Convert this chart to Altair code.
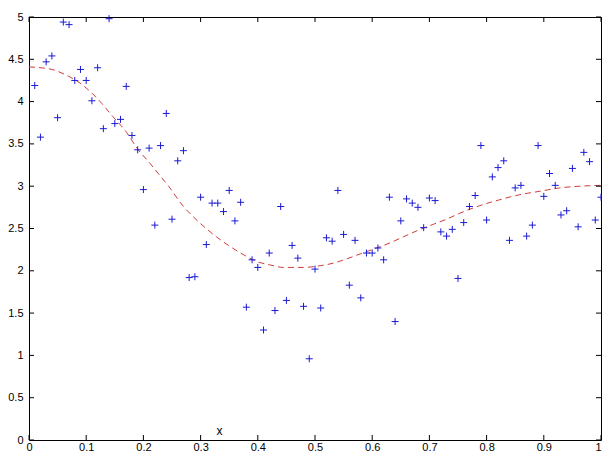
import altair as alt
import pandas as pd

# Scatter data (blue "+")
x_pts = [0.01, 0.02, 0.03, 0.04, 0.05, 0.06, 0.07, 0.08, 0.09, 0.10,
         0.11, 0.12, 0.13, 0.14, 0.15, 0.16, 0.17, 0.18, 0.19, 0.20,
         0.21, 0.22, 0.23, 0.24, 0.25, 0.26, 0.27, 0.28, 0.29, 0.30,
         0.31, 0.32, 0.33, 0.34, 0.35, 0.36, 0.37, 0.38, 0.39, 0.40,
         0.41, 0.42, 0.43, 0.44, 0.45, 0.46, 0.47, 0.48, 0.49, 0.50,
         0.51, 0.52, 0.53, 0.54, 0.55, 0.56, 0.57, 0.58, 0.59, 0.60,
         0.61, 0.62, 0.63, 0.64, 0.65, 0.66, 0.67, 0.68, 0.69, 0.70,
         0.71, 0.72, 0.73, 0.74, 0.75, 0.76, 0.77, 0.78, 0.79, 0.80,
         0.81, 0.82, 0.83, 0.84, 0.85, 0.86, 0.87, 0.88, 0.89, 0.90,
         0.91, 0.92, 0.93, 0.94, 0.95, 0.96, 0.97, 0.98, 0.99, 1.00]
y_pts = [4.19, 3.58, 4.47, 4.54, 3.81, 4.94, 4.91, 4.25, 4.38, 4.25,
         4.01, 4.40, 3.68, 4.98, 3.74, 3.79, 4.18, 3.60, 3.43, 2.96,
         3.45, 2.54, 3.48, 3.86, 2.61, 3.30, 3.42, 1.92, 1.93, 2.87,
         2.31, 2.80, 2.80, 2.70, 2.95, 2.59, 2.81, 1.57, 2.13, 2.04,
         1.30, 2.21, 1.53, 2.76, 1.65, 2.30, 2.15, 1.58, 0.96, 2.02,
         1.56, 2.39, 2.35, 2.95, 2.43, 1.83, 2.36, 1.68, 2.21, 2.21,
         2.27, 2.13, 2.87, 1.40, 2.59, 2.85, 2.80, 2.75, 2.51, 2.86,
         2.83, 2.46, 2.41, 2.49, 1.91, 2.57, 2.76, 2.89, 3.48, 2.60,
         3.11, 3.22, 3.30, 2.36, 2.98, 3.01, 2.41, 2.54, 3.48, 2.88,
         3.15, 3.01, 2.66, 2.71, 3.21, 2.52, 3.40, 3.29, 2.60, 2.87]

# Fitted curve (red dashed)
x_fit = [0.0, 0.04, 0.063, 0.089, 0.11, 0.127, 0.147, 0.168, 0.191, 0.209,
         0.226, 0.244, 0.27, 0.287, 0.308, 0.328, 0.351, 0.375, 0.398, 0.421,
         0.445, 0.48, 0.509, 0.532, 0.555, 0.579, 0.608, 0.631, 0.654, 0.684,
         0.707, 0.73, 0.753, 0.788, 0.823, 0.858, 0.893, 0.928, 0.963, 1.0]
y_fit = [4.41, 4.38, 4.32, 4.22, 4.10, 3.98, 3.82, 3.66, 3.43, 3.29,
         3.15, 3.00, 2.76, 2.64, 2.51, 2.40, 2.29, 2.19, 2.11, 2.07,
         2.04, 2.04, 2.06, 2.09, 2.14, 2.20, 2.27, 2.33, 2.40, 2.49,
         2.55, 2.61, 2.68, 2.77, 2.84, 2.90, 2.94, 2.98, 3.00, 3.01]

# Tick values
x_ticks = [0, 0.1, 0.2, 0.3, 0.4, 0.5, 0.6, 0.7, 0.8, 0.9, 1.0]
y_ticks = [0, 0.5, 1.0, 1.5, 2.0, 2.5, 3.0, 3.5, 4.0, 4.5, 5.0]

W, H = 572, 423
TL = 5  # inward tick length
FONT = "Liberation Sans"

pts = pd.DataFrame({"x": x_pts, "y": y_pts})
fit = pd.DataFrame({"x": x_fit, "y": y_fit})
xt = pd.DataFrame({"x": x_ticks})
yt = pd.DataFrame({"y": y_ticks})

xscale = alt.Scale(domain=[0, 1], nice=False, zero=False)
yscale = alt.Scale(domain=[0, 5], nice=False, zero=False)

xaxis = alt.Axis(values=x_ticks, format="~g", ticks=False, domain=False, grid=False,
                 labelPadding=1, labelFontSize=11, labelFont=FONT, labelColor="#000",
                 labelBaseline="top",
                 labelAlign={"condition": {"test": "datum.value >= 1", "value": "right"},
                             "value": "center"},
                 labelFlush=False, labelOverlap=False, labelBound=False,
                 title="x", titleX=190, titleY=-6, titleAnchor="start", titleAlign="center",
                 titleBaseline="alphabetic", titleFont=FONT, titleFontSize=12,
                 titleFontWeight="normal", titleColor="#000")
yaxis = alt.Axis(values=y_ticks, format="~g", ticks=False, domain=False, grid=False,
                 labelPadding=6, labelFontSize=11, labelFont=FONT, labelColor="#000",
                 labelFlush=False, labelOverlap=False, labelBound=False, title=None)

curve = alt.Chart(fit).mark_line(color="#d03c3c", strokeWidth=1, strokeDash=[6, 4],
                                 interpolate="monotone").encode(
    x=alt.X("x:Q", scale=xscale, axis=xaxis),
    y=alt.Y("y:Q", scale=yscale, axis=yaxis),
)

points = alt.Chart(pts).mark_point(shape="M-1,0H1M0,-1V1", size=49, filled=False,
                                   color="#1a1ad4", strokeWidth=1, opacity=1).encode(
    x=alt.X("x:Q", scale=xscale),
    y=alt.Y("y:Q", scale=yscale),
)

tick_style = dict(color="#000", strokeWidth=1)
bottom_ticks = alt.Chart(xt).mark_rule(**tick_style).encode(
    x=alt.X("x:Q", scale=xscale), y=alt.value(H), y2=alt.value(H - TL))
top_ticks = alt.Chart(xt).mark_rule(**tick_style).encode(
    x=alt.X("x:Q", scale=xscale), y=alt.value(0), y2=alt.value(TL))
left_ticks = alt.Chart(yt).mark_rule(**tick_style).encode(
    y=alt.Y("y:Q", scale=yscale), x=alt.value(0), x2=alt.value(TL))
right_ticks = alt.Chart(yt).mark_rule(**tick_style).encode(
    y=alt.Y("y:Q", scale=yscale), x=alt.value(W), x2=alt.value(W - TL))

chart = alt.layer(curve, points, bottom_ticks, top_ticks, left_ticks, right_ticks).properties(
    width=W, height=H,
    autosize=alt.AutoSizeParams(type="none"),
    padding={"left": 21, "top": 9, "right": 1, "bottom": 16},
    background="#ffffff",
).configure_view(stroke="#000", strokeWidth=1, fill="#ffffff")

chart.save("out.html", embed_options={"renderer": "svg", "actions": False})
